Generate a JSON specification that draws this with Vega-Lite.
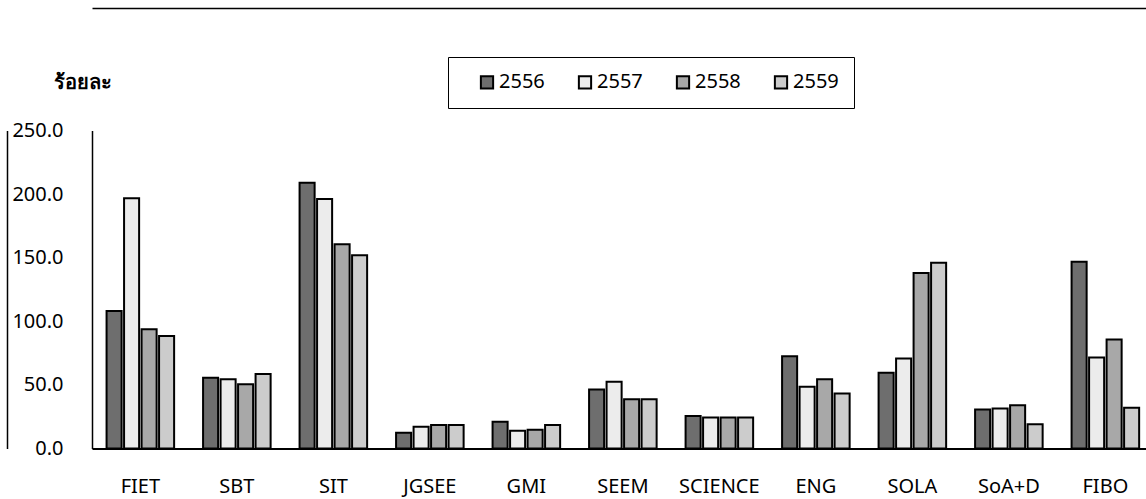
{
  "$schema": "https://vega.github.io/schema/vega-lite/v6.json",
  "width": 1054,
  "height": 318,
  "autosize": {"type": "none"},
  "padding": {"left": 92, "top": 130.5, "right": 0, "bottom": 50.5},
  "background": "white",
  "config": {
    "view": {"stroke": null},
    "font": "Noto Sans",
    "axis": {"labelFont": "Noto Sans", "titleFont": "Noto Sans"},
    "legend": {"labelFont": "Noto Sans"}
  },
  "data": {
    "values": [
      {"faculty": "FIET", "year": "2556", "value": 108.1},
      {"faculty": "FIET", "year": "2557", "value": 196.7},
      {"faculty": "FIET", "year": "2558", "value": 93.7},
      {"faculty": "FIET", "year": "2559", "value": 88.4},
      {"faculty": "SBT", "year": "2556", "value": 55.7},
      {"faculty": "SBT", "year": "2557", "value": 54.4},
      {"faculty": "SBT", "year": "2558", "value": 50.5},
      {"faculty": "SBT", "year": "2559", "value": 58.6},
      {"faculty": "SIT", "year": "2556", "value": 209.0},
      {"faculty": "SIT", "year": "2557", "value": 196.1},
      {"faculty": "SIT", "year": "2558", "value": 160.5},
      {"faculty": "SIT", "year": "2559", "value": 151.9},
      {"faculty": "JGSEE", "year": "2556", "value": 12.3},
      {"faculty": "JGSEE", "year": "2557", "value": 17.1},
      {"faculty": "JGSEE", "year": "2558", "value": 18.4},
      {"faculty": "JGSEE", "year": "2559", "value": 18.4},
      {"faculty": "GMI", "year": "2556", "value": 21.0},
      {"faculty": "GMI", "year": "2557", "value": 13.9},
      {"faculty": "GMI", "year": "2558", "value": 14.8},
      {"faculty": "GMI", "year": "2559", "value": 18.4},
      {"faculty": "SEEM", "year": "2556", "value": 46.4},
      {"faculty": "SEEM", "year": "2557", "value": 52.4},
      {"faculty": "SEEM", "year": "2558", "value": 38.8},
      {"faculty": "SEEM", "year": "2559", "value": 38.8},
      {"faculty": "SCIENCE", "year": "2556", "value": 25.5},
      {"faculty": "SCIENCE", "year": "2557", "value": 24.4},
      {"faculty": "SCIENCE", "year": "2558", "value": 24.4},
      {"faculty": "SCIENCE", "year": "2559", "value": 24.4},
      {"faculty": "ENG", "year": "2556", "value": 72.6},
      {"faculty": "ENG", "year": "2557", "value": 48.5},
      {"faculty": "ENG", "year": "2558", "value": 54.5},
      {"faculty": "ENG", "year": "2559", "value": 43.2},
      {"faculty": "SOLA", "year": "2556", "value": 59.5},
      {"faculty": "SOLA", "year": "2557", "value": 70.8},
      {"faculty": "SOLA", "year": "2558", "value": 138.0},
      {"faculty": "SOLA", "year": "2559", "value": 146.0},
      {"faculty": "SoA+D", "year": "2556", "value": 30.7},
      {"faculty": "SoA+D", "year": "2557", "value": 31.5},
      {"faculty": "SoA+D", "year": "2558", "value": 34.0},
      {"faculty": "SoA+D", "year": "2559", "value": 19.0},
      {"faculty": "FIBO", "year": "2556", "value": 146.8},
      {"faculty": "FIBO", "year": "2557", "value": 71.5},
      {"faculty": "FIBO", "year": "2558", "value": 85.7},
      {"faculty": "FIBO", "year": "2559", "value": 32.0}
    ]
  },
  "layer": [
    {
      "mark": {"type": "bar", "stroke": "black", "strokeWidth": 2},
      "encoding": {
        "x": {
          "field": "faculty", "type": "nominal", "sort": null,
          "scale": {"paddingInner": 0.3, "paddingOuter": 0.111, "align": 0.68},
          "axis": {"title": null, "labelAngle": 0, "labelFontSize": 20, "labelColor": "black",
                   "labelPadding": 43.5, "labelBaseline": "alphabetic", "ticks": false,
                   "domainColor": "black", "domainWidth": 2}
        },
        "xOffset": {"field": "year", "type": "nominal", "scale": {"paddingInner": 0.14, "paddingOuter": 0}},
        "y": {
          "field": "value", "type": "quantitative",
          "scale": {"domain": [0, 250], "nice": false},
          "axis": {"values": [0, 50, 100, 150, 200, 250], "format": ".1f", "grid": false, "ticks": false,
                   "labelFontSize": 20, "labelColor": "black", "labelPadding": 29,
                   "domainColor": "black", "domainWidth": 1.5,
                   "title": "ร้อยละ", "titleAngle": 0, "titleX": -39, "titleY": -48.5,
                   "titleAlign": "left", "titleBaseline": "middle", "titleFontSize": 20,
                   "titleFontWeight": "bold", "titleColor": "black"}
        },
        "fill": {
          "field": "year", "type": "nominal",
          "scale": {"domain": ["2556", "2557", "2558", "2559"], "range": ["#6e6e6e", "#ececec", "#a8a8a8", "#cccccc"]},
          "legend": {"orient": "none", "legendX": 356, "legendY": -73.5, "direction": "horizontal",
                     "title": null, "strokeColor": "black", "padding": 15,
                     "symbolType": "square", "symbolSize": 150, "symbolStrokeColor": "black",
                     "symbolStrokeWidth": 2, "symbolOffset": 14,
                     "labelFontSize": 20, "labelColor": "black", "columnPadding": 16, "labelOffset": 2}
        }
      }
    },
    {
      "mark": {"type": "bar", "opacity": 0},
      "encoding": {
        "x": {"field": "faculty", "type": "nominal", "sort": null,
              "axis": {"orient": "top", "offset": 122.5, "labels": false, "ticks": false, "title": null,
                       "domainColor": "black", "domainWidth": 1.5}},
        "y": {"field": "value", "type": "quantitative",
              "axis": {"orient": "left", "offset": 85, "labels": false, "ticks": false, "title": null,
                       "grid": false, "domainColor": "black", "domainWidth": 1.5}}
      }
    }
  ],
  "resolve": {"axis": {"x": "independent", "y": "independent"}}
}
